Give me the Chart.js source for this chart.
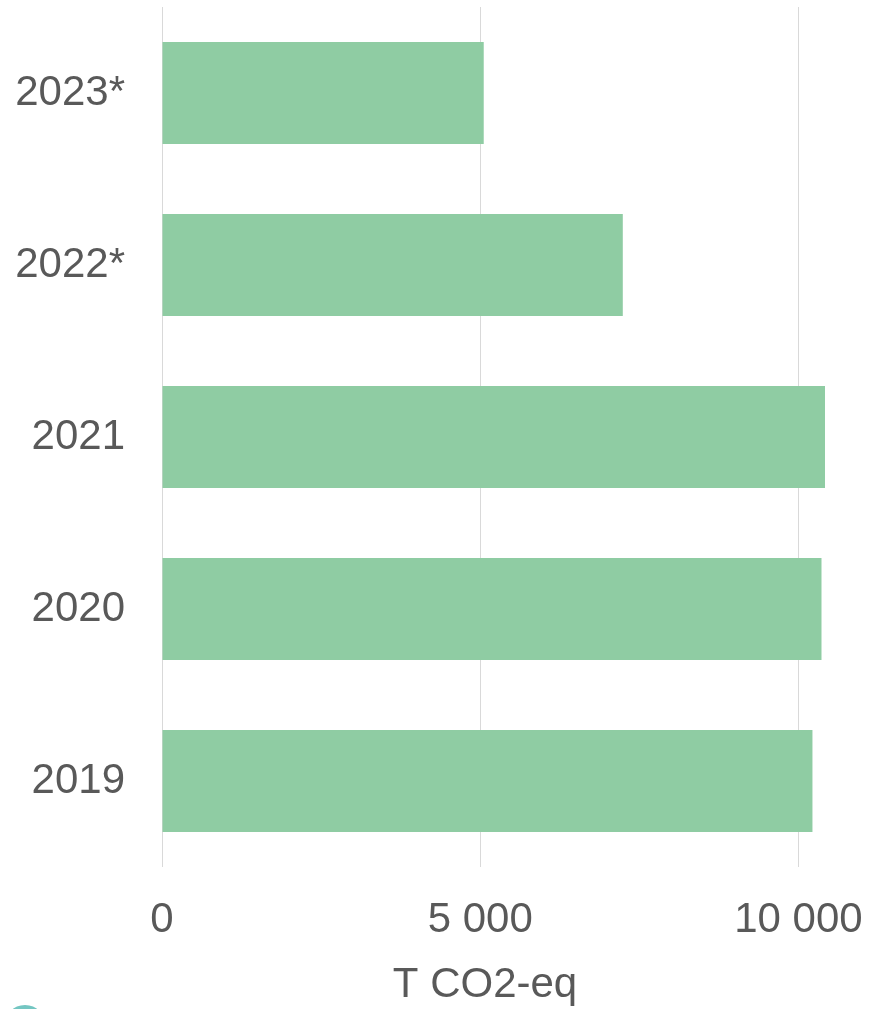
<!DOCTYPE html>
<html>
<head>
<meta charset="utf-8">
<script src="https://cdn.jsdelivr.net/npm/chart.js@4"></script>
<style>
html,body{margin:0;padding:0;background:#fff;overflow:hidden;}
#wrap{position:relative;width:869px;height:1009px;}
#logo{position:absolute;left:4px;top:1005px;width:42px;height:42px;border-radius:50%;border:4px solid #74C6C2;box-sizing:border-box;}
</style>
</head>
<body>
<div id="wrap">
<canvas id="c" width="869" height="1009"></canvas>
<div id="logo"></div>
</div>
<script>
const categories = ["2023*", "2022*", "2021", "2020", "2019"];
const emissions = [5055, 7240, 10417, 10362, 10220];
const tickValues = [0, 5000, 10000];
const axisTitle = "T CO2-eq";

const textColor = "#595959";
const fontFamily = "'Liberation Sans', Arial, sans-serif";

new Chart(document.getElementById("c"), {
  type: "bar",
  data: {
    labels: categories,
    datasets: [{
      data: emissions,
      backgroundColor: "#8FCCA3",
      borderWidth: 0,
      categoryPercentage: 1,
      barPercentage: 0.593,
      clip: false
    }]
  },
  options: {
    indexAxis: "y",
    responsive: false,
    animation: false,
    events: [],
    layout: { padding: { top: 7, right: 61, left: 0, bottom: 0 } },
    plugins: { legend: { display: false }, tooltip: { enabled: false } },
    scales: {
      x: {
        min: 0,
        max: 10150,
        afterBuildTicks: (s) => { s.ticks = tickValues.map(v => ({ value: v })); },
        afterFit: (s) => { s.height = 142; s.paddingLeft = 0; s.paddingRight = 0; },
        grid: { color: "#D9D9D9", lineWidth: 1, drawTicks: false },
        border: { display: false },
        ticks: {
          color: textColor,
          font: { family: fontFamily, size: 42 },
          padding: 28,
          maxRotation: 0,
          callback: (v) => v === 0 ? "0" : String(v).replace(/\B(?=(\d{3})+(?!\d))/g, " ")
        },
        title: {
          display: true,
          text: axisTitle,
          color: textColor,
          font: { family: fontFamily, size: 42 },
          padding: { top: 0, bottom: -2 }
        }
      },
      y: {
        afterFit: (s) => { s.width = 162; s.paddingTop = 0; s.paddingBottom = 0; },
        grid: { display: false },
        border: { display: false },
        ticks: {
          color: textColor,
          font: { family: fontFamily, size: 42 },
          padding: 29
        }
      }
    }
  }
});
</script>
</body>
</html>
